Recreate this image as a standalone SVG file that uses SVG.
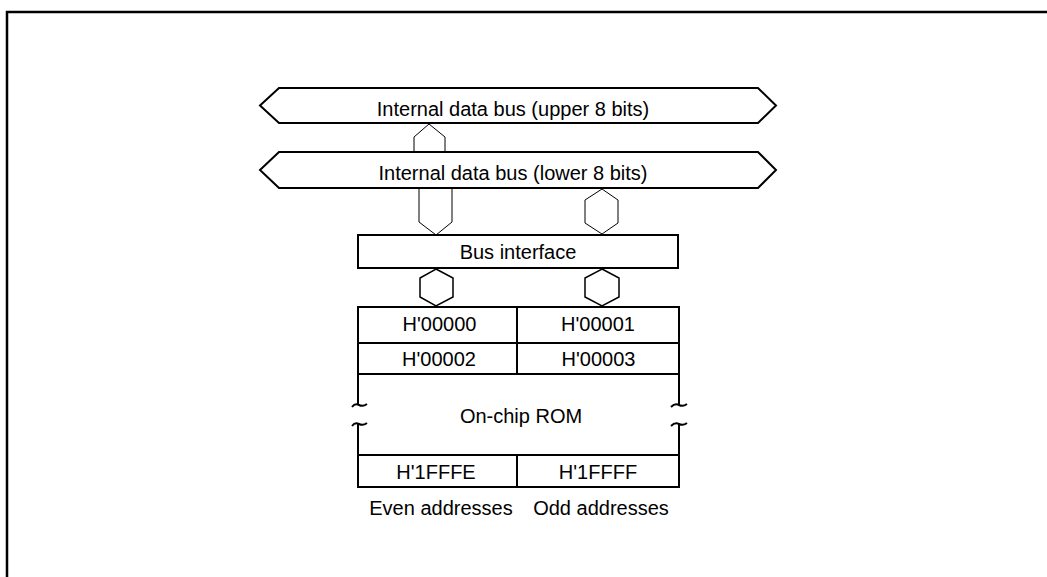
<svg xmlns="http://www.w3.org/2000/svg" width="1047" height="577" viewBox="0 0 1047 577">
<style>
.t{font-family:"Liberation Sans",Arial,sans-serif;font-size:20px;fill:#000;text-anchor:middle}
.s{fill:#fff;stroke:#000;stroke-width:2;stroke-linejoin:miter}
.c{fill:#fff;stroke:#000;stroke-width:1.5}
.f{fill:none;stroke:#000;stroke-width:1}
.l{fill:none;stroke:#000;stroke-width:2}
</style>
<rect width="1047" height="577" fill="#fff"/>
<path d="M7,577 V12 H1047" fill="none" stroke="#000" stroke-width="2.5"/>
<g id="connectors">
<path class="f" d="M414,152 V137 L429,124 L445,137 V152"/>
<path class="f" d="M419,188 V222 L436,235 L452,222 V188"/>
<path class="f" d="M602,189 L618,200 V223 L602,234 L585,223 V200 Z"/>
<path class="c" d="M436,269 L453,278 V297 L436,306 L420,297 V278 Z"/>
<path class="c" d="M602,269 L619,278 V297 L602,306 L585,297 V278 Z"/>
</g>
<g id="bus-upper">
<path class="s" d="M260,105.5 L279,88 H758 L776,105.5 L758,123 H279 Z"/>
<text class="t" x="513" y="116">Internal data bus (upper 8 bits)</text>
</g>
<g id="bus-lower">
<path class="s" d="M260,170 L279,152 H758 L776,170 L758,188 H279 Z"/>
<text class="t" x="513" y="180">Internal data bus (lower 8 bits)</text>
</g>
<g id="bus-interface">
<rect class="s" x="358" y="235" width="320" height="33"/>
<text class="t" x="518" y="259">Bus interface</text>
</g>
<g id="rom">
<path class="l" d="M358,405 V307 H679 V405 M358,343 H679 M358,374 H679 M517,307 V374"/>
<path class="l" d="M358,424 V487 H679 V424 M358,455 H679 M517,455 V487"/>
<path class="l" d="M352,407 q3,-4 7,-2 t8,-1"/>
<path class="l" d="M352,426 q3,-4 7,-2 t8,-1"/>
<path class="l" d="M671,407 q4,-4 8,-2 t8,-1"/>
<path class="l" d="M671,426 q4,-4 8,-2 t8,-1"/>
<text class="t" x="439.5" y="331">H'00000</text>
<text class="t" x="598" y="331">H'00001</text>
<text class="t" x="439" y="366">H'00002</text>
<text class="t" x="598.5" y="366">H'00003</text>
<text class="t" x="521" y="423">On-chip ROM</text>
<text class="t" x="436" y="479">H'1FFFE</text>
<text class="t" x="598" y="479">H'1FFFF</text>
</g>
<g id="labels">
<text class="t" x="441" y="515">Even addresses</text>
<text class="t" x="601" y="515">Odd addresses</text>
</g>
</svg>
